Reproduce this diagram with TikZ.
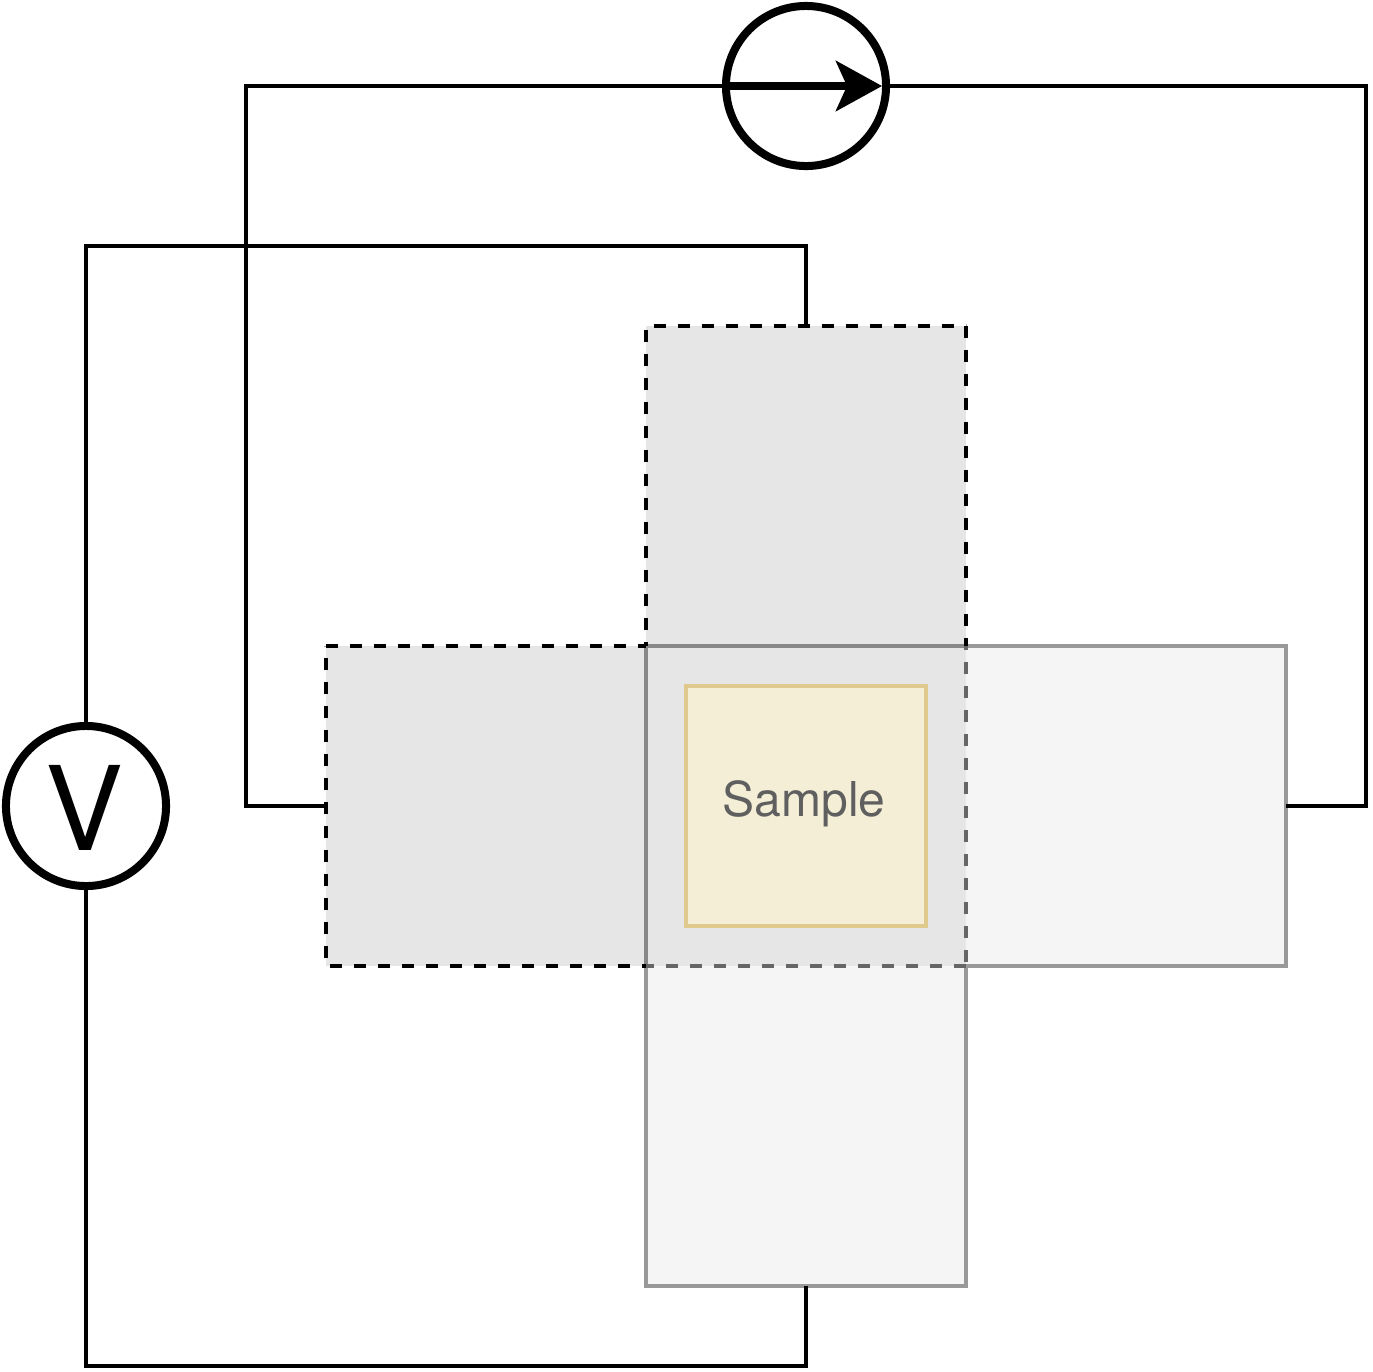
\documentclass[tikz,border=0pt]{standalone}
\usepackage{fontspec}
\setmainfont{TeX Gyre Heros}
\usetikzlibrary{arrows.meta}
\definecolor{padgray}{HTML}{E6E6E6}
\definecolor{padlight}{HTML}{F5F5F5}
\definecolor{padedge}{HTML}{999999}
\definecolor{overlapedge}{HTML}{888888}
\definecolor{overlapdash}{HTML}{666666}
\definecolor{samplefill}{HTML}{F4EED7}
\definecolor{sampleedge}{HTML}{DFC98C}
\definecolor{sampleink}{HTML}{5F5F5F}
\tikzset{
  padbox/.style={minimum width=3.2cm, minimum height=3.2cm, inner sep=0pt, outer sep=0pt},
  edgeline/.style={line width=0.04cm},
  dashline/.style={edgeline, dash pattern=on 0.12cm off 0.12cm, dash phase=#1},
  meter/.style={circle, draw=black, fill=white, line width=0.08cm, minimum size=1.6cm, inner sep=0pt, outer sep=0pt},
  wire/.style={draw=black, line width=0.04cm}
}

\begin{document}
\begin{tikzpicture}[
  x=0.01cm,
  y=-0.01cm,
  every node/.style={font=\fontsize{13.66pt}{16pt}\selectfont}
]
  \useasboundingbox (0,0) rectangle (1372,1372);

  % contact pads
  \node[padbox, fill=padlight] (padright) at (1126,806) {};
  \node[padbox, fill=padlight] (padbottom) at (806,1126) {};
  \node[padbox, fill=padgray] (padtop) at (806,486) {};
  \node[padbox, fill=padgray] (padleft) at (486,806) {};
  \node[padbox, fill=padgray] (overlap) at (806,806) {};

  \draw[padedge, edgeline] (padright.north west) -- (padright.north east) -- (padright.south east) -- (padright.south west);
  \draw[padedge, edgeline] (padbottom.north east) -- (padbottom.south east) -- (padbottom.south west) -- (padbottom.north west);

  % overlap of the pads
  \draw[overlapedge, edgeline] (overlap.south west) -- (overlap.north west) -- (overlap.north east);
  \draw[overlapdash, dashline=0.08cm] (overlap.north east) -- (overlap.south east);
  \draw[overlapdash, dashline=0cm] (overlap.south east) -- (overlap.south west);

  % dashed outlines
  \draw[black, dashline=0.16cm] (padtop.north west) -- (padtop.north east);
  \draw[black, dashline=0cm] (padtop.north east) -- (padtop.south east);
  \draw[black, dashline=0.2cm] (padtop.north west) -- (padtop.south west);
  \draw[black, dashline=0cm] (padleft.north west) -- (padleft.north east);
  \draw[black, dashline=0.16cm] (padleft.south west) -- (padleft.north west);
  \draw[black, dashline=0.08cm] (padleft.south east) -- (padleft.south west);

  \node[padbox, minimum width=2.4cm, minimum height=2.4cm, fill=samplefill, draw=sampleedge, edgeline] (sample) at (806,806) {};
  \node[text=sampleink, inner sep=0pt] (samplelabel) at (804,803.5) {Sample};

  % meters
  \node[meter] (source) at (806,86) {};
  \node[meter] (volt) at (86,806) {};
  \node[inner sep=0pt, font=\fontsize{33.2pt}{36pt}\selectfont] (voltlabel) at (84,807.5) {V};

  % wires
  \draw[wire] (source.west) -- (246,86) -- (246,806) -- (padleft.west);
  \draw[wire] (source.east) -- (1366,86) -- (1366,806) -- (padright.east);
  \draw[wire] (volt.north) -- (86,246) -- (806,246) -- (padtop.north);
  \draw[wire] (volt.south) -- (86,1366) -- (806,1366) -- (padbottom.south);

  \draw[line width=0.08cm, -{Stealth[length=0.46cm, width=0.5cm, inset=0.11cm]}, shorten >=0.04cm]
    (source.west) -- (source.east);
\end{tikzpicture}
\end{document}
